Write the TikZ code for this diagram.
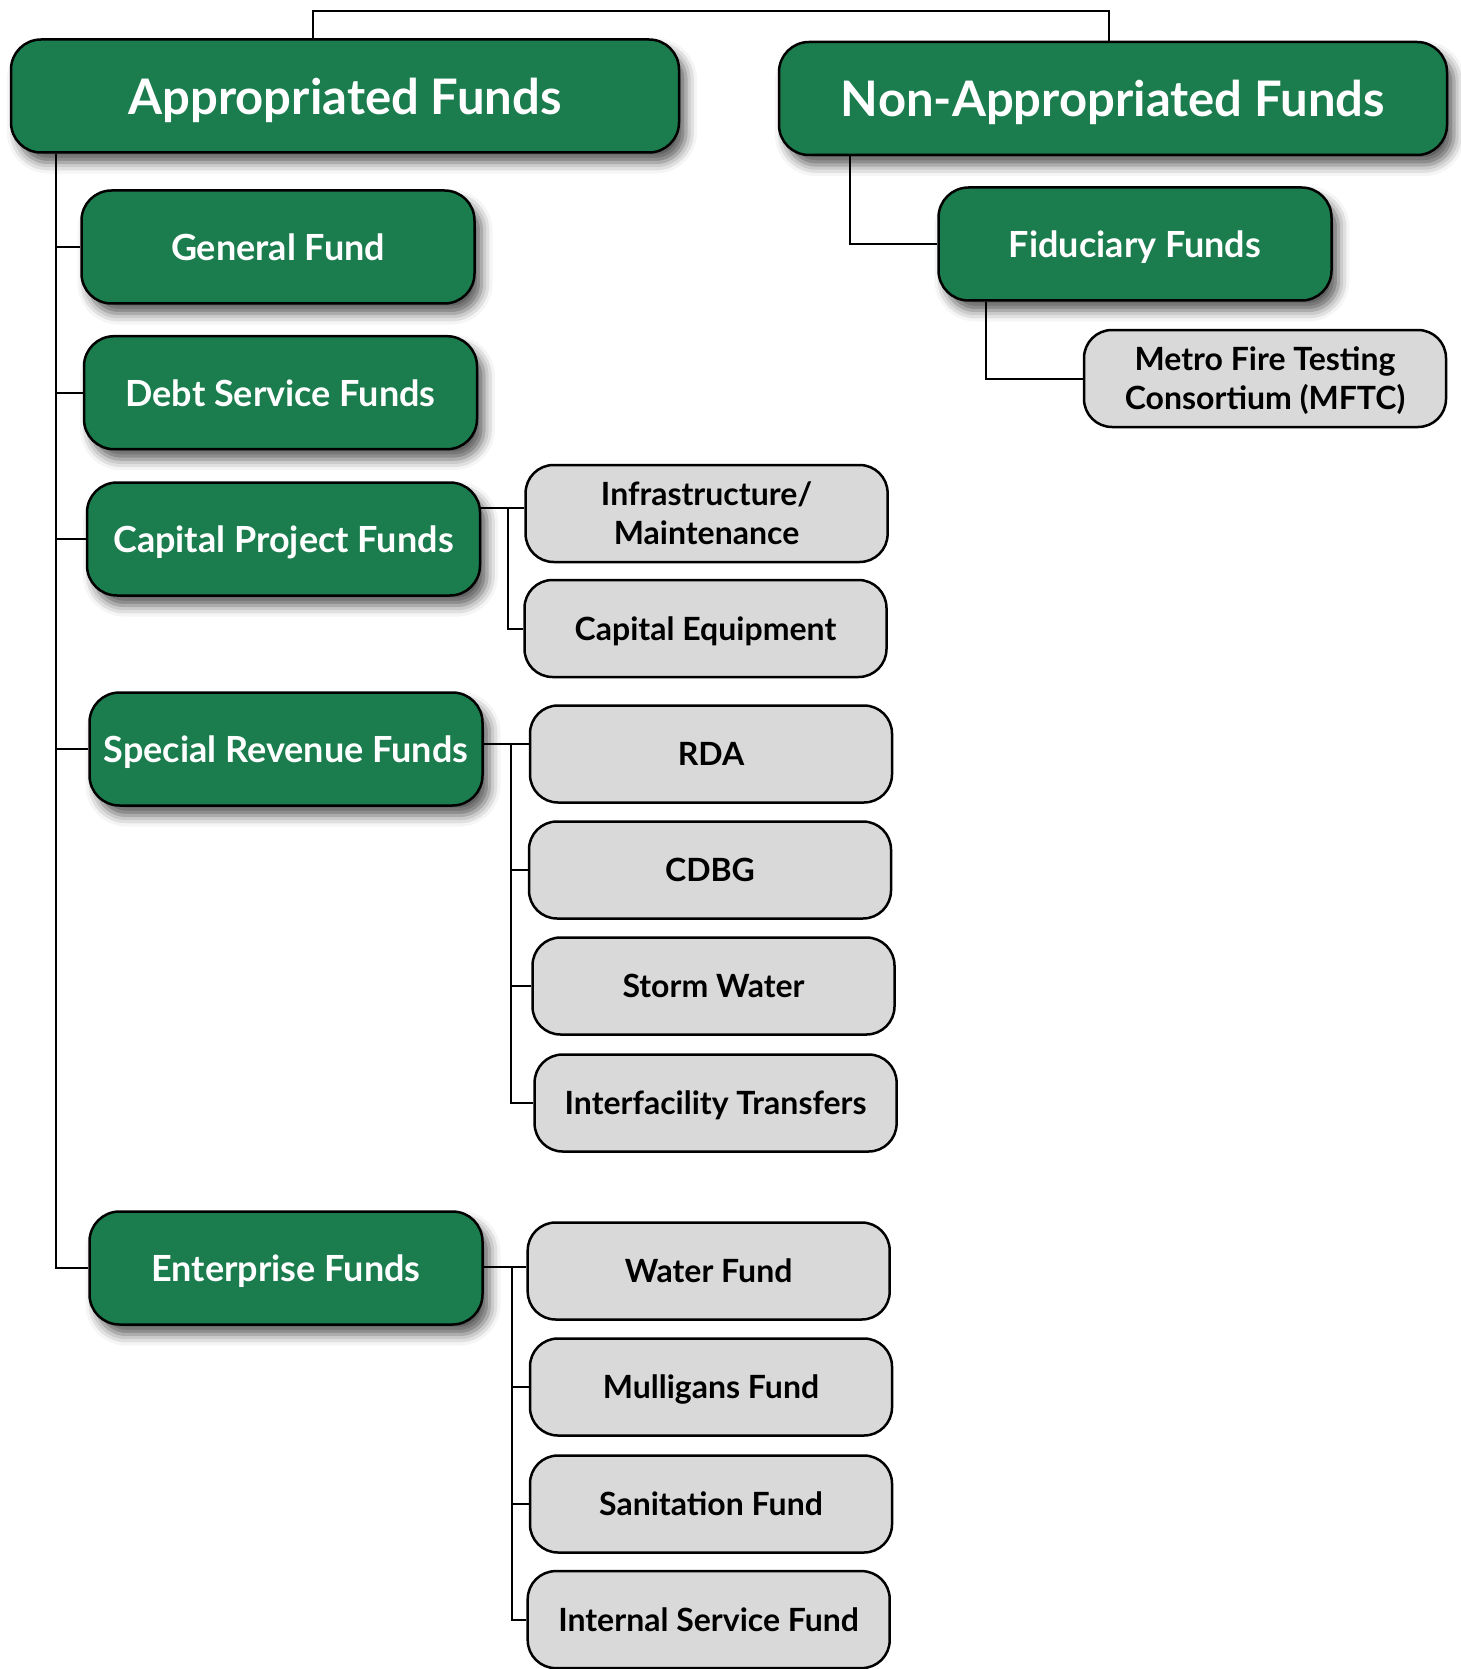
\documentclass[tikz,border=0pt]{standalone}
\usepackage{fontspec}
\setmainfont{Lato}
\usetikzlibrary{shadows.blur}
\definecolor{fundgreen}{HTML}{1B7D4E}
\definecolor{fundgray}{HTML}{D9D9D9}

\begin{document}
\begin{tikzpicture}[x=1pt,y=-1pt,
    fundshadow/.style={blur shadow={shadow xshift=7pt, shadow yshift=-10pt, shadow blur radius=11pt, shadow opacity=65}},
    topfund/.style={draw=black, line width=2.5pt, fill=fundgreen, rounded corners=30pt,
      minimum width=668pt, minimum height=113pt, text=white, text depth=0pt, fundshadow,
      font=\bfseries\fontsize{49}{54}\selectfont},
    fund/.style={draw=black, line width=2.5pt, fill=fundgreen, rounded corners=30pt,
      minimum width=393pt, minimum height=113pt, text=white, text depth=0pt, fundshadow,
      font=\bfseries\fontsize{36}{40}\selectfont},
    subfund/.style={draw=black, line width=2.5pt, fill=fundgray, rounded corners=28pt,
      minimum width=362pt, minimum height=97pt, align=center, text depth=0pt,
      font=\bfseries\fontsize{32}{39}\selectfont},
    link/.style={draw=black, line width=2pt}]
  \useasboundingbox (0,0) rectangle (1460,1669);
  % top level
  \node[topfund] (app) at (345,96) {Appropriated Funds};
  \node[topfund] (nonapp) at (1113,98.5) {Non-Appropriated Funds};
  % appropriated funds
  \node[fund] (gen) at (278,247) {General Fund};
  \node[fund] (debt) at (280.5,392.7) {Debt Service Funds};
  \node[fund] (cap) at (283.5,539) {Capital Project Funds};
  \node[fund] (spec) at (286,749) {Special Revenue Funds};
  \node[fund] (ent) at (286,1268) {Enterprise Funds};
  % non-appropriated funds
  \node[fund] (fid) at (1135,244) {Fiduciary Funds};
  \node[subfund] (mftc) at (1265,378.5) {Metro Fire Testing\\Consortium (MFTC)};
  % capital project funds
  \node[subfund] (infra) at (706.6,513.5) {Infrastructure/\\Maintenance};
  \node[subfund] (equip) at (705.5,628.5) {Capital Equipment};
  % special revenue funds
  \node[subfund] (rda) at (711,754) {RDA};
  \node[subfund] (cdbg) at (710,870) {CDBG};
  \node[subfund] (storm) at (713.5,986) {Storm Water};
  \node[subfund] (inter) at (715.6,1103) {Interfacility Transfers};
  % enterprise funds
  \node[subfund] (water) at (708.7,1271) {Water Fund};
  \node[subfund] (mull) at (711,1387) {Mulligans Fund};
  \node[subfund] (sani) at (711,1504) {Sanitation Fund};
  \node[subfund] (intsvc) at (708.7,1619.6) {Internal Service Fund};

  % connectors
  \coordinate (topbus) at (700,11);
  \draw[link] ([xshift=-32pt]app.north) |- (topbus) -| ([xshift=-4pt]nonapp.north);
  \foreach \n in {gen,debt,cap,spec,ent}
    \draw[link] ([xshift=46pt]app.south west) |- (\n.west);
  \draw[link] ([xshift=72pt]nonapp.south west) |- (fid.west);
  \draw[link] ([xshift=49pt]fid.south west) |- (mftc.west);

  \coordinate (infrain) at ([yshift=6pt]infra.west);
  \draw[link] (cap.east |- infrain) -- (infrain);
  \path (cap.east |- infrain) ++(26.7,0) coordinate (capbus);
  \draw[link] (capbus) |- (equip.west);

  \coordinate (rdain) at ([yshift=10pt]rda.west);
  \draw[link] (spec.east |- rdain) -- (rdain);
  \path (spec.east |- rdain) ++(27.2,0) coordinate (specbus);
  \foreach \n in {cdbg,storm,inter}
    \draw[link] (specbus) |- (\n.west);

  \coordinate (waterin) at ([yshift=4pt]water.west);
  \draw[link] (ent.east |- waterin) -- (waterin);
  \path (ent.east |- waterin) ++(28.5,0) coordinate (entbus);
  \foreach \n in {mull,sani,intsvc}
    \draw[link] (entbus) |- (\n.west);
\end{tikzpicture}
\end{document}
